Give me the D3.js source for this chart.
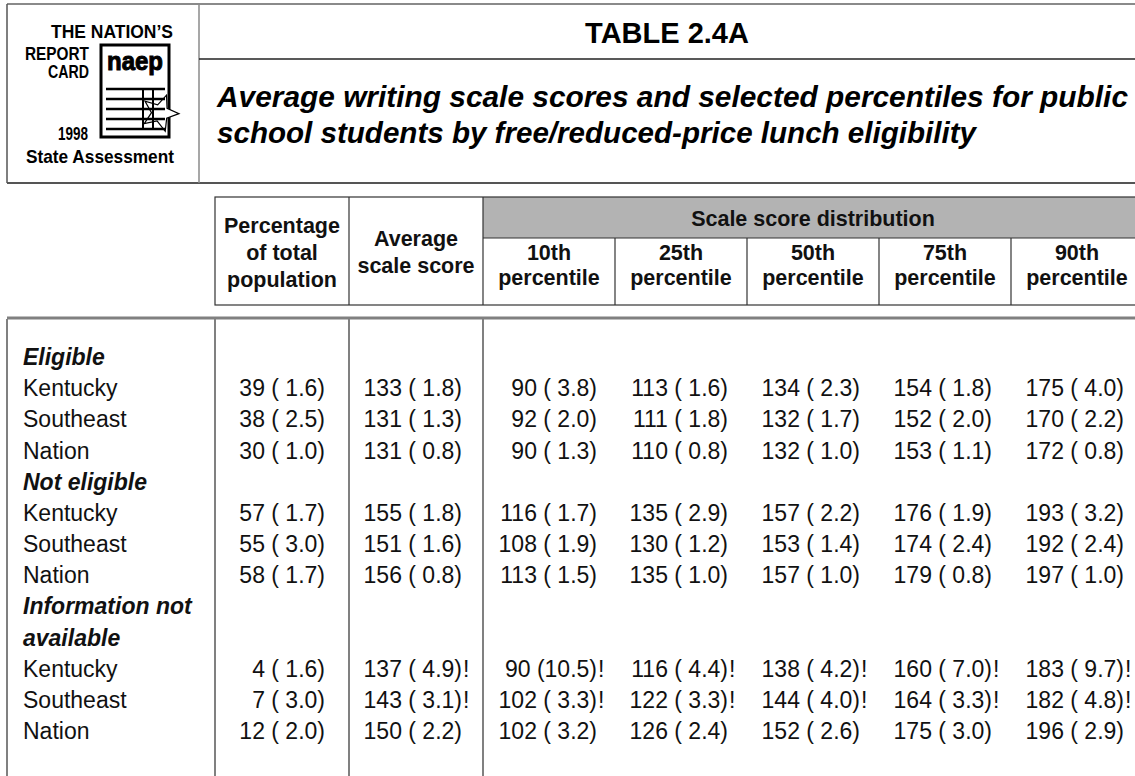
<!DOCTYPE html>
<html><head><meta charset="utf-8">
<script src="https://cdn.jsdelivr.net/npm/d3@7"></script>
<style>body{margin:0;background:#fff}svg{display:block}</style>
</head><body><svg id="c" width="1135" height="776"></svg>
<script>
// ---------- data ----------
const titleText = "TABLE 2.4A";
const subtitleLines = ["Average writing scale scores and selected percentiles for public",
                       "school students by free/reduced-price lunch eligibility"];
const groupLines = [["Eligible"], ["Not eligible"], ["Information not", "available"]];
const jurisdictions = ["Kentucky", "Southeast", "Nation"];
const firstHeads = [["Percentage", "of total", "population"], ["Average", "scale score"]];
const spannerText = "Scale score distribution";
const pctHeads = [["10th", "percentile"], ["25th", "percentile"], ["50th", "percentile"], ["75th", "percentile"], ["90th", "percentile"]];

const percentPop   = [39, 38, 30, 57, 55, 58, 4, 7, 12];
const percentPopSE = [1.6, 2.5, 1.0, 1.7, 3.0, 1.7, 1.6, 3.0, 2.0];
const avgScore     = [133, 131, 131, 155, 151, 156, 137, 143, 150];
const avgScoreSE   = [1.8, 1.3, 0.8, 1.8, 1.6, 0.8, 4.9, 3.1, 2.2];
const avgFlag      = [0, 0, 0, 0, 0, 0, 1, 1, 0];
const p10   = [90, 92, 90, 116, 108, 113, 90, 102, 102];
const p10SE = [3.8, 2.0, 1.3, 1.7, 1.9, 1.5, 10.5, 3.3, 3.2];
const p25   = [113, 111, 110, 135, 130, 135, 116, 122, 126];
const p25SE = [1.6, 1.8, 0.8, 2.9, 1.2, 1.0, 4.4, 3.3, 2.4];
const p50   = [134, 132, 132, 157, 153, 157, 138, 144, 152];
const p50SE = [2.3, 1.7, 1.0, 2.2, 1.4, 1.0, 4.2, 4.0, 2.6];
const p75   = [154, 152, 153, 176, 174, 179, 160, 164, 175];
const p75SE = [1.8, 2.0, 1.1, 1.9, 2.4, 0.8, 7.0, 3.3, 3.0];
const p90   = [175, 170, 172, 193, 192, 197, 183, 182, 196];
const p90SE = [4.0, 2.2, 0.8, 3.2, 2.4, 1.0, 9.7, 4.8, 2.9];
const pctFlag = [0, 0, 0, 0, 0, 0, 1, 1, 0];

// ---------- layout ----------
const FONT = "'Liberation Sans', Arial, Helvetica, sans-serif";
const svg = d3.select("#c").style("font-family", FONT);
const W = 1135, H = 776;

function line(x1, y1, x2, y2, color, w) {
  svg.append("line").attr("x1", x1).attr("y1", y1).attr("x2", x2).attr("y2", y2)
    .attr("stroke", color).attr("stroke-width", w);
}

// ---------- top banner ----------
line(7, 4, W, 4, "#8a8a8a", 2);
line(7, 183, W, 183, "#555", 2);
line(7, 4, 7, 183, "#555", 1.5);
line(199, 4, 199, 183, "#8a8a8a", 1.5);
line(199, 59, W, 59, "#222", 1.5);

// logo
const logo = svg.append("g");
function ltxt(t, x, y, len, size) {
  logo.append("text").attr("x", x).attr("y", y)
    .attr("font-weight", "bold").attr("font-size", size || 18).attr("fill", "#000")
    .attr("textLength", len).attr("lengthAdjust", "spacingAndGlyphs").text(t);
}
ltxt("THE NATION\u2019S", 51, 38, 122);
ltxt("REPORT", 25, 60, 64);
ltxt("CARD", 48, 78, 41);
ltxt("1998", 58, 140, 30);
ltxt("State Assessment", 26, 163, 148, 19);
logo.append("rect").attr("x", 101).attr("y", 45).attr("width", 68).attr("height", 92)
  .attr("fill", "#fff").attr("stroke", "#000").attr("stroke-width", 3);
logo.append("text").attr("x", 107).attr("y", 70).attr("font-weight", "bold").attr("font-size", 26)
  .attr("stroke", "#000").attr("stroke-width", 1)
  .attr("textLength", 56).attr("lengthAdjust", "spacingAndGlyphs").attr("fill", "#000").text("naep");
[89, 99, 109, 119, 129].forEach(yy => line(106, yy, 165, yy, "#000", 2.4));
line(143, 89, 143, 130, "#000", 2);
line(153, 89, 153, 130, "#000", 2);
const star = d3.range(10).map(i => {
  const a = -Math.PI / 2 + i * Math.PI / 5 + 0.35;
  const r = i % 2 === 0 ? 19 : 8.5;
  return [160 + r * Math.cos(a), 113 + r * Math.sin(a)];
});
logo.append("path").attr("d", d3.line()(star) + "Z").attr("fill", "#fff").attr("stroke", "#000").attr("stroke-width", 1.2);

// title & subtitle
svg.append("text").attr("x", (199 + W) / 2).attr("y", 43).attr("text-anchor", "middle")
  .attr("font-weight", "bold").attr("font-size", 29).text(titleText);
const subLens = [911, 759];
subtitleLines.forEach((t, i) => {
  svg.append("text").attr("x", 217).attr("y", 107 + i * 36)
    .attr("font-weight", "bold").attr("font-style", "italic").attr("font-size", 30)
    .attr("textLength", subLens[i]).attr("lengthAdjust", "spacingAndGlyphs").text(t);
});

// ---------- table header ----------
const xFirst = d3.scaleBand().domain([0, 1]).range([215, 483]);
const xPct = d3.scaleBand().domain(d3.range(pctHeads.length)).range([483, 1143]);
const hTop = 197, hMid = 238, hBot = 305;

svg.append("rect").attr("x", 483).attr("y", hTop).attr("width", 1143 - 483).attr("height", hMid - hTop)
  .attr("fill", "#b3b3b3");
svg.append("rect").attr("x", 215).attr("y", hTop).attr("width", 1143 - 215).attr("height", hBot - hTop)
  .attr("fill", "none").attr("stroke", "#333").attr("stroke-width", 1.2);
line(xFirst(1), hTop, xFirst(1), hBot, "#333", 1.2);
line(483, hTop, 483, hBot, "#333", 1.2);
line(483, hMid, 1143, hMid, "#333", 1.2);
xPct.domain().slice(1).forEach(i => line(xPct(i), hMid, xPct(i), hBot, "#333", 1.2));

function headText(lines, cx, cy, lh) {
  const n = lines.length;
  lines.forEach((t, i) => {
    svg.append("text").attr("x", cx).attr("y", cy + (i - (n - 1) / 2) * lh + 7.5)
      .attr("text-anchor", "middle").attr("font-weight", "bold").attr("font-size", 21.5)
      .attr("fill", "#111").text(t);
  });
}
firstHeads.forEach((ls, i) => headText(ls, xFirst(i) + xFirst.bandwidth() / 2, 252, 27));
headText([spannerText], (483 + 1143) / 2, 218, 0);
pctHeads.forEach((ls, i) => headText(ls, xPct(i) + xPct.bandwidth() / 2, 265, 25));

// ---------- body ----------
const bTop = 318;
line(7, bTop, W, bTop, "#808080", 3);
[7, 215, xFirst(1), 483].forEach(xx => line(xx, bTop + 1, xx, H, "#808080", 2));

const rows = [];
let k = 0;
groupLines.forEach(gl => {
  gl.forEach(t => rows.push({ type: "group", text: t }));
  jurisdictions.forEach(j => rows.push({ type: "data", text: j, k: k++ }));
});
const y = d3.scaleLinear().domain([0, rows.length - 1]).range([357, 731]);

const fmt = (v, se) => v + " (" + (se < 10 ? " " + se.toFixed(1) : se.toFixed(1)) + ")";
const cols = [
  { v: percentPop, se: percentPopSE, flag: null, right: xFirst(0) + xFirst.bandwidth() - 24 },
  { v: avgScore, se: avgScoreSE, flag: avgFlag, right: xFirst(1) + xFirst.bandwidth() - 21 },
  { v: p10, se: p10SE, flag: pctFlag, right: xPct(0) + xPct.bandwidth() - 18 },
  { v: p25, se: p25SE, flag: pctFlag, right: xPct(1) + xPct.bandwidth() - 19 },
  { v: p50, se: p50SE, flag: pctFlag, right: xPct(2) + xPct.bandwidth() - 19 },
  { v: p75, se: p75SE, flag: pctFlag, right: xPct(3) + xPct.bandwidth() - 19 },
  { v: p90, se: p90SE, flag: pctFlag, right: xPct(4) + xPct.bandwidth() - 19 }
];

const body = svg.append("g").attr("font-size", 23).attr("fill", "#111");
rows.forEach((r, i) => {
  const yy = y(i) + 8;
  const t = body.append("text").attr("x", 23).attr("y", yy).text(r.text);
  if (r.type === "group") { t.attr("font-weight", "bold").attr("font-style", "italic"); return; }
  cols.forEach(c => {
    body.append("text").attr("x", c.right).attr("y", yy).attr("text-anchor", "end")
      .style("white-space", "pre").text(fmt(c.v[r.k], c.se[r.k]));
    if (c.flag && c.flag[r.k]) body.append("text").attr("x", c.right + 1).attr("y", yy).text("!");
  });
});
</script></body></html>
